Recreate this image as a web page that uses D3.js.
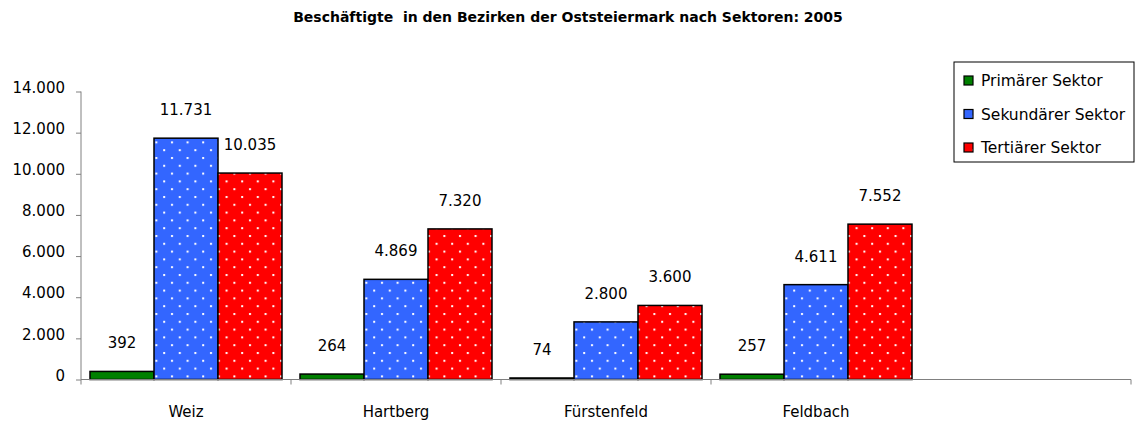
<!DOCTYPE html>
<html>
<head>
<meta charset="utf-8">
<script src="https://cdn.jsdelivr.net/npm/d3@7"></script>
<style>
  body { margin: 0; background: #fff; }
  svg { display: block; font-family: "DejaVu Sans", sans-serif; }
</style>
</head>
<body>
<div id="chart"></div>
<script>
// data
var districts = ["Weiz", "Hartberg", "Fürstenfeld", "Feldbach", ""];
var sectors = ["Primärer Sektor", "Sekundärer Sektor", "Tertiärer Sektor"];
var primaer = [392, 264, 74, 257];
var sekundaer = [11731, 4869, 2800, 4611];
var tertiaer = [10035, 7320, 3600, 7552];
var yTicks = [0, 2000, 4000, 6000, 8000, 10000, 12000, 14000];
var TITLE = "Beschäftigte  in den Bezirken der Oststeiermark nach Sektoren: 2005";

var WIDTH = 1138, HEIGHT = 425;
var PLOT_LEFT = 81, PLOT_RIGHT = 1131, PLOT_TOP = 91.5, PLOT_BOTTOM = 379.5;
var fills = ["#008000", "url(#dotsBlue)", "url(#dotsRed)"];

var seriesValues = [primaer, sekundaer, tertiaer];
var fmt = d3.formatLocale({decimal: ",", thousands: ".", grouping: [3], currency: ["", ""]}).format(",d");

var svg = d3.select("#chart").append("svg")
    .attr("width", WIDTH)
    .attr("height", HEIGHT);

// dotted patterns for blue and red bars
var defs = svg.append("defs");
[["dotsBlue", "#3366ff"], ["dotsRed", "#ff0000"]].forEach(function(p) {
    var pat = defs.append("pattern")
        .attr("id", p[0])
        .attr("patternUnits", "userSpaceOnUse")
        .attr("width", 15.6)
        .attr("height", 15.6);
    pat.append("rect").attr("width", 15.6).attr("height", 15.6).attr("fill", p[1]);
    pat.append("rect").attr("x", 3).attr("y", 1).attr("width", 2).attr("height", 2).attr("fill", "#fff");
    pat.append("rect").attr("x", 10.8).attr("y", 8.8).attr("width", 2).attr("height", 2).attr("fill", "#fff");
});

// scales
var x0 = d3.scaleBand().domain(districts).range([PLOT_LEFT, PLOT_RIGHT]);
var x1 = d3.scaleBand().domain(sectors).range([0, 192]);
var y = d3.scaleLinear().domain([0, 14000]).range([PLOT_BOTTOM, PLOT_TOP]);

// title
svg.append("text")
    .attr("x", 568)
    .attr("y", 22)
    .attr("text-anchor", "middle")
    .attr("font-size", 14)
    .attr("font-weight", "bold")
    .style("white-space", "pre")
    .text(TITLE);

// y axis
var yAxis = svg.append("g")
    .attr("transform", "translate(" + PLOT_LEFT + ",0)")
    .call(d3.axisLeft(y).tickValues(yTicks).tickSize(5).tickPadding(11).tickFormat(function(d) { return fmt(d); }));
yAxis.select(".domain").attr("stroke", "#808080").attr("d", "M0," + (PLOT_TOP) + "V" + PLOT_BOTTOM);
yAxis.selectAll(".tick line").attr("stroke", "#808080");
yAxis.selectAll(".tick text")
    .attr("font-size", 15)
    .attr("font-family", "DejaVu Sans, sans-serif")
    .attr("fill", "#000")
    .attr("dy", "0.05em");

// bars
var groups = svg.selectAll("g.district")
    .data(districts.slice(0, 4))
    .enter().append("g")
    .attr("class", "district")
    .attr("transform", function(d) { return "translate(" + (x0(d) + (x0.bandwidth() - 192) / 2) + ",0)"; });

groups.each(function(d, i) {
    var g = d3.select(this);
    sectors.forEach(function(s, j) {
        var v = seriesValues[j][i];
        g.append("rect")
            .attr("x", x1(s))
            .attr("y", y(v))
            .attr("width", x1.bandwidth())
            .attr("height", PLOT_BOTTOM - y(v))
            .attr("fill", fills[j])
            .attr("stroke", "#000")
            .attr("stroke-width", 1.5);
        g.append("text")
            .attr("x", x1(s) + x1.bandwidth() / 2)
            .attr("y", y(v) - 23)
            .attr("text-anchor", "middle")
            .attr("font-size", 15)
            .text(fmt(v));
    });
});

// x axis (no tick between the last, empty category and the one before it)
svg.append("line")
    .attr("x1", PLOT_LEFT).attr("x2", PLOT_RIGHT)
    .attr("y1", PLOT_BOTTOM).attr("y2", PLOT_BOTTOM)
    .attr("stroke", "#808080");
var tickPos = districts.slice(0, 4).map(function(d) { return x0(d); }).concat([PLOT_RIGHT]);
svg.selectAll("line.xtick")
    .data(tickPos)
    .enter().append("line")
    .attr("class", "xtick")
    .attr("x1", function(d) { return d; })
    .attr("x2", function(d) { return d; })
    .attr("y1", PLOT_BOTTOM).attr("y2", PLOT_BOTTOM + 5)
    .attr("stroke", "#808080");
svg.selectAll("text.xlabel")
    .data(districts)
    .enter().append("text")
    .attr("class", "xlabel")
    .attr("x", function(d) { return x0(d) + x0.bandwidth() / 2; })
    .attr("y", 417)
    .attr("text-anchor", "middle")
    .attr("font-size", 15)
    .text(function(d) { return d; });

// legend
var legend = svg.append("g").attr("transform", "translate(954,62)");
legend.append("rect")
    .attr("width", 180).attr("height", 100)
    .attr("fill", "#fff").attr("stroke", "#000");
sectors.forEach(function(s, j) {
    var row = legend.append("g").attr("transform", "translate(0," + (19 + j * 33.5) + ")");
    row.append("rect")
        .attr("x", 10).attr("y", -5).attr("width", 9).attr("height", 9)
        .attr("fill", fills[j]).attr("stroke", "#000").attr("stroke-width", 1.2);
    row.append("text")
        .attr("x", 27).attr("y", 0)
        .attr("dy", "0.35em")
        .attr("font-size", 15.5)
        .text(s);
});
</script>
</body>
</html>
